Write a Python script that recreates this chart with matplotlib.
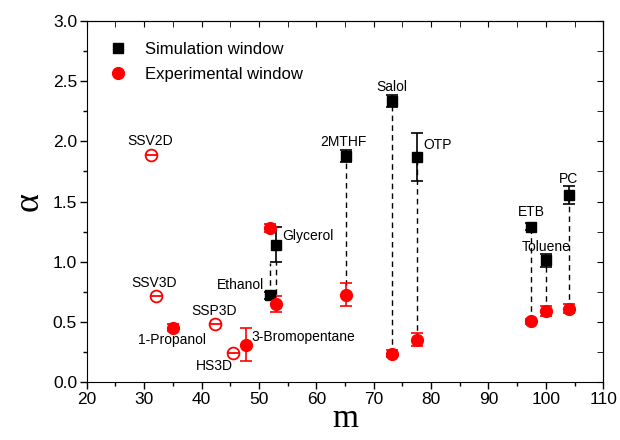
import matplotlib
matplotlib.use('Agg')
import matplotlib.pyplot as plt

plt.rcParams['font.family'] = ['Liberation Sans', 'DejaVu Sans']

# Simulation window (black squares)
sim_m = [51.9, 53.0, 65.1, 73.2, 77.6, 97.4, 100.0, 104.0]
sim_a = [0.72, 1.14, 1.88, 2.335, 1.87, 1.29, 1.01, 1.555]
sim_err = [0.03, 0.145, 0.05, 0.05, 0.20, 0.03, 0.055, 0.075]

# Experimental window (filled red circles)
exp_m = [35.1, 52.0, 53.0, 47.7, 65.1, 73.1, 77.6, 97.4, 100.0, 104.0]
exp_a = [0.45, 1.28, 0.65, 0.31, 0.725, 0.235, 0.35, 0.505, 0.59, 0.61]
exp_err = [0.03, 0.03, 0.065, 0.135, 0.095, 0.03, 0.055, 0.02, 0.045, 0.04]

# model systems (open red circles)
mod_m = [31.2, 32.0, 42.4, 45.5]
mod_a = [1.885, 0.715, 0.485, 0.24]

# dashed links: m, top, bottom
link_m = [51.9, 53.0, 65.1, 73.1, 77.6, 97.4, 100.0, 104.0]
link_top = [0.99, 1.0, 1.88, 2.335, 1.87, 1.29, 1.01, 1.555]
link_bot = [0.72, 0.65, 0.725, 0.235, 0.35, 0.505, 0.59, 0.61]

# labels: text, x, y, horizontal alignment
labels = ['SSV2D', 'SSV3D', '1-Propanol', 'SSP3D', 'HS3D', '3-Bromopentane',
          'Ethanol', 'Glycerol', '2MTHF', 'Salol', 'OTP', 'ETB', 'Toluene', 'PC']
lab_x = [31.0, 31.8, 34.9, 42.2, 42.2, 48.7, 50.9, 54.1, 64.8, 73.1, 78.7, 97.4, 100.0, 104.0]
lab_y = [2.0, 0.82, 0.35, 0.59, 0.13, 0.37, 0.81, 1.21, 1.995, 2.455, 1.97, 1.41, 1.125, 1.685]
lab_ha = ['center', 'center', 'center', 'center', 'center', 'left',
          'right', 'left', 'center', 'center', 'left', 'center', 'center', 'center']

fig = plt.figure(figsize=(6.2, 4.4), dpi=100)
ax = fig.add_axes([0.140, 0.132, 0.833, 0.820])

ax.vlines(link_m, link_bot, link_top, colors='black', linestyles=(0, (4, 3)), linewidth=1.0, zorder=1)

ax.errorbar(sim_m, sim_a, yerr=sim_err, fmt='s', color='black', ms=7.5,
            capsize=4.3, elinewidth=1.2, capthick=1.2, zorder=3)
ax.errorbar(exp_m, exp_a, yerr=exp_err, fmt='o', color='red', ms=8.5,
            capsize=4.3, elinewidth=1.2, capthick=1.2, zorder=3)
ax.plot(mod_m, mod_a, 'o', mfc='white', mec='red', mew=1.3, ms=8.5, ls='none', zorder=3)
ax.plot(mod_m, mod_a, '_', color='red', mew=1.3, ms=8.5, ls='none', zorder=4)

for t, x, y, ha in zip(labels, lab_x, lab_y, lab_ha):
    ax.text(x, y, t, ha=ha, va='center', fontsize=10)

h1, = ax.plot([], [], 's', color='black', ms=7.5)
h2, = ax.plot([], [], 'o', color='red', ms=8.5)
ax.legend([h1, h2], ['Simulation window', 'Experimental window'], loc='upper left',
          frameon=False, fontsize=12, bbox_to_anchor=(0.0, 0.985), handletextpad=0.6,
          labelspacing=0.6)

ax.set_xlim(20, 110)
ax.set_ylim(0, 3.0)
ax.set_xticks(range(20, 111, 10))
ax.set_xticks(range(25, 110, 10), minor=True)
ax.set_yticks([0, 0.5, 1.0, 1.5, 2.0, 2.5, 3.0])
ax.set_yticklabels(['0.0', '0.5', '1.0', '1.5', '2.0', '2.5', '3.0'])
ax.set_yticks([0.25, 0.75, 1.25, 1.75, 2.25, 2.75], minor=True)
ax.tick_params(which='both', direction='out', labelsize=12.5, width=1)
ax.tick_params(which='major', length=5, pad=2)
ax.tick_params(which='minor', length=3)

# top and right ticks point inwards
top = ax.secondary_xaxis('top')
top.set_xticks(range(20, 111, 10))
top.set_xticks(range(25, 110, 10), minor=True)
top.tick_params(which='both', direction='in', length=4, labeltop=False)
right = ax.secondary_yaxis('right')
right.set_yticks([0, 0.5, 1.0, 1.5, 2.0, 2.5, 3.0])
right.set_yticks([0.25, 0.75, 1.25, 1.75, 2.25, 2.75], minor=True)
right.tick_params(which='both', direction='in', length=4, labelright=False)

ax.set_xlabel('m', fontsize=24, family='Liberation Serif', labelpad=-2)
ax.set_ylabel('α', fontsize=26, family='Liberation Serif', labelpad=5)

fig.savefig('out.png', dpi=100)
